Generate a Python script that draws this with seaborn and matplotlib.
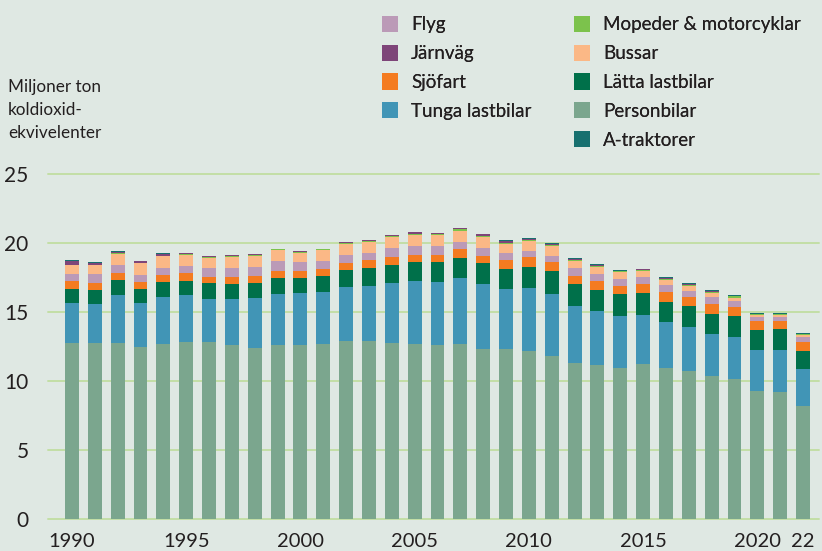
import matplotlib
matplotlib.use("Agg")
import matplotlib.pyplot as plt
from matplotlib.patches import Patch
import numpy as np
import pandas as pd
import seaborn as sns

# Data (miljoner ton CO2-ekv)
years = list(range(1990, 2023))
personbilar = [12.77, 12.77, 12.77, 12.48, 12.70, 12.84, 12.84, 12.60, 12.41, 12.62,
               12.62, 12.70, 12.91, 12.91, 12.77, 12.70, 12.62, 12.70, 12.33, 12.33,
               12.19, 11.83, 11.32, 11.17, 10.96, 11.25, 10.96, 10.74, 10.37, 10.16,
               9.29, 9.21, 8.20]
tunga_lastbilar = [2.90, 2.83, 3.48, 3.19, 3.41, 3.41, 3.12, 3.36, 3.62, 3.70,
                   3.78, 3.77, 3.92, 3.99, 4.35, 4.57, 4.57, 4.78, 4.72, 4.36,
                   4.57, 4.49, 4.13, 3.92, 3.77, 3.55, 3.33, 3.19, 3.05, 3.04,
                   2.97, 3.05, 2.68]
latta_lastbilar = [1.02, 1.01, 1.09, 1.02, 1.08, 1.02, 1.16, 1.09, 1.09, 1.16,
                   1.08, 1.16, 1.24, 1.31, 1.31, 1.38, 1.46, 1.46, 1.52, 1.45,
                   1.52, 1.67, 1.60, 1.52, 1.59, 1.60, 1.45, 1.52, 1.45, 1.53,
                   1.45, 1.52, 1.31]
sjofart = [0.58, 0.51, 0.51, 0.50, 0.51, 0.58, 0.44, 0.51, 0.51, 0.51,
           0.51, 0.51, 0.50, 0.58, 0.58, 0.50, 0.50, 0.65, 0.51, 0.65,
           0.73, 0.66, 0.58, 0.66, 0.58, 0.65, 0.73, 0.66, 0.73, 0.65,
           0.66, 0.59, 0.65]
flyg = [0.51, 0.66, 0.58, 0.51, 0.51, 0.51, 0.65, 0.65, 0.65, 0.73,
        0.66, 0.58, 0.58, 0.51, 0.65, 0.66, 0.66, 0.51, 0.58, 0.51,
        0.43, 0.43, 0.58, 0.51, 0.51, 0.51, 0.51, 0.43, 0.51, 0.44,
        0.29, 0.29, 0.36]
bussar = [0.65, 0.65, 0.80, 0.87, 0.87, 0.79, 0.73, 0.80, 0.80, 0.80,
          0.65, 0.80, 0.80, 0.80, 0.80, 0.79, 0.79, 0.79, 0.80, 0.65,
          0.73, 0.73, 0.51, 0.50, 0.51, 0.44, 0.36, 0.36, 0.29, 0.21,
          0.14, 0.14, 0.15]
mopeder = [0.00, 0.00, 0.05, 0.00, 0.00, 0.06, 0.05, 0.06, 0.04, 0.02,
           0.06, 0.02, 0.05, 0.05, 0.07, 0.07, 0.06, 0.12, 0.05, 0.08,
           0.07, 0.06, 0.06, 0.07, 0.04, 0.07, 0.05, 0.04, 0.06, 0.10,
           0.04, 0.04, 0.05]
jarnvag = [0.24, 0.15, 0.08, 0.15, 0.15, 0.09, 0.09, 0.08, 0.08, 0.05,
           0.08, 0.05, 0.10, 0.09, 0.07, 0.15, 0.09, 0.10, 0.17, 0.08,
           0.05, 0.05, 0.04, 0.05, 0.03, 0.03, 0.08, 0.10, 0.05, 0.03,
           0.05, 0.05, 0.04]
a_traktorer = [0.07, 0.07, 0.08, 0.00, 0.07, 0.00, 0.00, 0.00, 0.00, 0.00,
               0.00, 0.00, 0.00, 0.00, 0.00, 0.00, 0.00, 0.00, 0.00, 0.13,
               0.10, 0.10, 0.12, 0.10, 0.08, 0.04, 0.09, 0.08, 0.10, 0.09,
               0.06, 0.06, 0.05]

tick_years = [1990, 1995, 2000, 2005, 2010, 2015, 2020, 2022]
tick_labels = ["1990", "1995", "2000", "2005", "2010", "2015", "2020", "22"]

# stacking order, bottom to top
series = [
    ("Personbilar", personbilar, "#7ba68e"),
    ("Tunga lastbilar", tunga_lastbilar, "#4195b6"),
    ("Lätta lastbilar", latta_lastbilar, "#00704a"),
    ("Sjöfart", sjofart, "#f47b20"),
    ("Flyg", flyg, "#bb9ab7"),
    ("Bussar", bussar, "#fbb886"),
    ("Mopeder & motorcyklar", mopeder, "#7cc24c"),
    ("Järnväg", jarnvag, "#7e4579"),
    ("A-traktorer", a_traktorer, "#17706f"),
]

df = pd.DataFrame({"År": years})
cum = np.zeros(len(years))
for name, vals, _ in series:
    cum = cum + np.array(vals)
    df[name] = cum

bg = "#dfe8e3"
sns.set_theme(style="white")
plt.rcParams["font.family"] = ["Lato", "DejaVu Sans"]
text_col = "#231f20"

fig = plt.figure(figsize=(8.22, 5.51), dpi=100, facecolor=bg)
ax = fig.add_axes([48 / 822, 32 / 551, (819 - 48) / 822, (519 - 174) / 551])
ax.set_facecolor(bg)

# draw cumulative totals from top layer down so each overlays the one above
handles = {}
for name, _, col in reversed(series):
    sns.barplot(data=df, x="År", y=name, color=col, width=0.61,
                saturation=1, linewidth=0, ax=ax)
    handles[name] = Patch(facecolor=col, edgecolor="none")

ax.set_ylim(0, 25)
ax.set_xlim(-1.05, len(years) - 1 + 0.70)
ax.set_yticks([0, 5, 10, 15, 20, 25])
ax.set_yticklabels(["0", "5", "10", "15", "20", "25"])
ax.set_xticks([years.index(y) for y in tick_years])
ax.set_xticklabels(tick_labels)
ax.tick_params(axis="y", labelsize=15, colors=text_col, length=0, pad=14)
ax.tick_params(axis="x", labelsize=14.5, colors=text_col, length=0, pad=10)
ax.grid(axis="y", color="#c3dea6", linewidth=1.4, clip_on=False)
ax.set_axisbelow(True)
for gl in ax.get_ygridlines():
    gl.set_clip_on(False)
for s in ax.spines.values():
    s.set_visible(False)
ax.set_xlabel("")
ax.set_ylabel("")

fig.text(8 / 822, 1 - 110 / 551, "Miljoner ton\nkoldioxid-\nekvivelenter",
         fontsize=12.3, color=text_col, va="center", ha="left", linespacing=1.55)

col1 = ["Flyg", "Järnväg", "Sjöfart", "Tunga lastbilar"]
col2 = ["Mopeder & motorcyklar", "Bussar", "Lätta lastbilar", "Personbilar", "A-traktorer"]
for names, x0 in [(col1, 365 / 822), (col2, 557 / 822)]:
    leg = fig.legend([handles[n] for n in names], names, loc="upper left",
                     bbox_to_anchor=(x0, 1 + 1 / 551), frameon=False,
                     fontsize=13.5, handlelength=0.85, handleheight=0.95,
                     handletextpad=0.7, labelspacing=0.6, labelcolor=text_col)
    fig.add_artist(leg)

fig.savefig("out.png", dpi=100, facecolor=bg)
